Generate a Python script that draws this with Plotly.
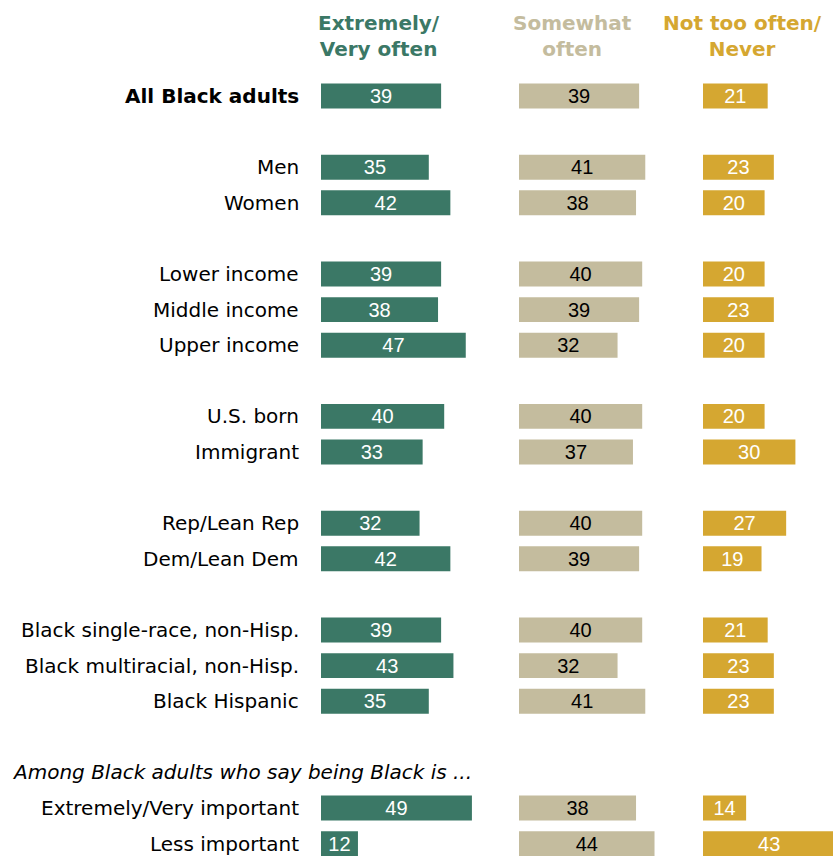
import plotly.graph_objects as go

# Groups of survey categories (a blank row separates groups)
groups = [
    ["All Black adults"],
    ["Men", "Women"],
    ["Lower income", "Middle income", "Upper income"],
    ["U.S. born", "Immigrant"],
    ["Rep/Lean Rep", "Dem/Lean Dem"],
    ["Black single-race, non-Hisp.", "Black multiracial, non-Hisp.", "Black Hispanic"],
    ["Extremely/Very important", "Less important"],
]
subhead = "Among Black adults who say being Black is ..."

very_often = [39, 35, 42, 39, 38, 47, 40, 33, 32, 42, 39, 43, 35, 49, 12]
somewhat_often = [39, 41, 38, 40, 39, 32, 40, 37, 40, 39, 40, 32, 41, 38, 44]
not_too_often = [21, 23, 20, 20, 23, 20, 20, 30, 27, 19, 21, 23, 23, 14, 43]

series_names = ["Extremely/<br>Very often", "Somewhat<br>often", "Not too often/<br>Never"]
series_values = [very_often, somewhat_often, not_too_often]
colors = ["#3b7866", "#c4bc9e", "#d5a731"]
text_colors = ["white", "black", "white"]

W, H = 833, 857
ROW = 35.6        # pixel height of one row
TOP = 96          # pixel centre of first row
PX_PER_PT = 3.08  # pixels per percentage point
col_left = [321, 519, 703]
header_center = [379, 572, 742]

# row index for each category, with a spacer between groups
labels, rows = [], []
r = 0
for gi, g in enumerate(groups):
    if gi == len(groups) - 1:
        sub_row = r
        r += 1
    for name in g:
        labels.append(name)
        rows.append(r)
        r += 1
    r += 1

label_font = "DejaVu Sans"
num_font = "Liberation Sans"
fig = go.Figure()
y_range = [(H - TOP) / ROW, -TOP / ROW]

for i, (name, vals) in enumerate(zip(series_names, series_values)):
    axn = "" if i == 0 else str(i + 1)
    fig.add_trace(go.Bar(
        x=vals, y=rows, orientation="h",
        marker=dict(color=colors[i], line=dict(width=0)),
        width=0.7,
        text=vals, textposition="inside", insidetextanchor="middle",
        constraintext="none",
        textfont=dict(color=text_colors[i], size=20, family=num_font),
        xaxis="x" + axn, yaxis="y" + axn, showlegend=False,
        hoverinfo="skip", cliponaxis=True,
    ))
    x0 = col_left[i] / W
    x1 = min(1.0, (col_left[i] + 50 * PX_PER_PT) / W)
    xr = (x1 * W - col_left[i]) / PX_PER_PT
    fig.update_layout(**{
        "xaxis" + axn: dict(domain=[x0, x1], range=[0, xr], visible=False, fixedrange=True),
        "yaxis" + axn: dict(domain=[0, 1], range=y_range, visible=False, fixedrange=True,
                            anchor="x" + axn),
    })
    # column header
    fig.add_annotation(
        x=header_center[i] / W, y=1 - 36 / H, xref="paper", yref="paper",
        text="<b>" + name + "</b>", showarrow=False,
        font=dict(family=label_font, size=20, color=colors[i]),
        align="center", xanchor="center", yanchor="middle",
    )

# category labels
for name, rr in zip(labels, rows):
    txt = "<b>" + name + "</b>" if name == "All Black adults" else name
    fig.add_annotation(
        x=301 / W, y=1 - (TOP + rr * ROW) / H, xref="paper", yref="paper",
        text=txt, showarrow=False, xanchor="right", yanchor="middle",
        font=dict(family=label_font, size=20, color="black"),
    )

fig.add_annotation(
    x=10 / W, y=1 - (TOP + sub_row * ROW) / H, xref="paper", yref="paper",
    text="<i>" + subhead + "</i>", showarrow=False, xanchor="left", yanchor="middle",
    font=dict(family=label_font, size=20, color="black"),
)

fig.update_layout(
    width=W, height=H, margin=dict(l=0, r=0, t=0, b=0),
    paper_bgcolor="white", plot_bgcolor="white", barmode="overlay",
)

fig.write_html("out.html")
